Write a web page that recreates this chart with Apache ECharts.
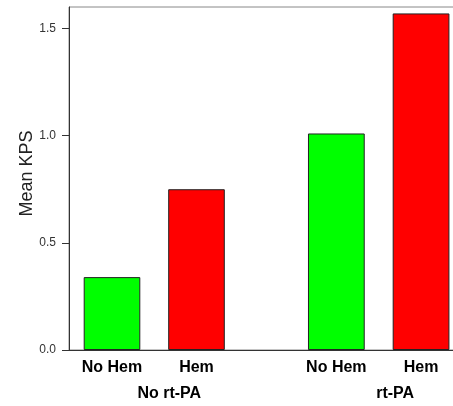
<!DOCTYPE html>
<html>
<head>
<meta charset="utf-8">
<script src="https://cdn.jsdelivr.net/npm/echarts@6/dist/echarts.min.js"></script>
<style>
  html, body { margin: 0; padding: 0; background: #fff; }
  #chart { width: 453px; height: 406px; }
</style>
</head>
<body>
<div id="chart"></div>
<script>
// data
var hemCategories = ["No Hem", "Hem"];
var groupNames = ["No rt-PA", "rt-PA"];
var noTpaValues = [0.34, 0.75];
var tpaValues = [1.01, 1.57];
var barColors = ["#00ff00", "#ff0000"];
var yTicks = [0, 0.5, 1.0, 1.5];
var yMax = 1.6;

var font = "Liberation Sans, Arial, sans-serif";

function colorOf(p) {
  return barColors[p.dataIndex];
}

var chart = echarts.init(document.getElementById("chart"));

chart.setOption({
  animation: false,
  // grid 0 = frame + y axis, grid 1/2 = bar groups (right side runs past the canvas)
  grid: [
    { left: 69, width: 400, top: 7, bottom: 56, outerBoundsMode: "none", show: true, borderColor: "#888", borderWidth: 1, backgroundColor: "transparent" },
    { left: 69.75, width: 169, top: 7, bottom: 56, outerBoundsMode: "none" },
    { left: 294, width: 169.4, top: 7, bottom: 56, outerBoundsMode: "none" }
  ],
  xAxis: [
    {
      gridIndex: 0, type: "value", min: 0, max: 1,
      axisLine: { show: true, lineStyle: { color: "#333", width: 1 } },
      axisTick: { show: false }, axisLabel: { show: false }, splitLine: { show: false }
    },
    {
      gridIndex: 1, type: "category", data: hemCategories,
      name: groupNames[0], nameLocation: "middle", nameGap: 36, nameMoveOverlap: false,
      nameTextStyle: { fontFamily: font, fontSize: 16, fontWeight: "bold", color: "#000", padding: [0, 0, 0, 30] },
      axisLine: { show: false }, axisTick: { show: false },
      axisLabel: { fontFamily: font, fontSize: 16, fontWeight: "bold", color: "#000", margin: 10 }
    },
    {
      gridIndex: 2, type: "category", data: hemCategories,
      name: groupNames[1], nameLocation: "middle", nameGap: 36, nameMoveOverlap: false,
      nameTextStyle: { fontFamily: font, fontSize: 16, fontWeight: "bold", color: "#000", padding: [0, 0, 0, 33] },
      axisLine: { show: false }, axisTick: { show: false },
      axisLabel: { fontFamily: font, fontSize: 16, fontWeight: "bold", color: "#000", margin: 10 }
    }
  ],
  yAxis: [
    {
      gridIndex: 0, type: "value", min: 0, max: yMax,
      name: "Mean KPS", nameLocation: "middle", nameGap: 33, nameMoveOverlap: false,
      nameTextStyle: { fontFamily: font, fontSize: 18, color: "#222", padding: [0, 0, 0, 10] },
      axisLine: { show: true, lineStyle: { color: "#333", width: 1 } },
      axisTick: { show: true, length: 7, customValues: yTicks, lineStyle: { color: "#333" } },
      axisLabel: {
        fontFamily: font, fontSize: 12, color: "#333", margin: 13, customValues: yTicks,
        formatter: function (v) { return v.toFixed(1); }
      },
      splitLine: { show: false }
    },
    { gridIndex: 1, type: "value", min: 0, max: yMax, show: false },
    { gridIndex: 2, type: "value", min: 0, max: yMax, show: false }
  ],
  series: [
    {
      name: groupNames[0], type: "bar", xAxisIndex: 1, yAxisIndex: 1,
      barWidth: "67%", data: noTpaValues,
      itemStyle: { color: colorOf, borderColor: "#222", borderWidth: 1 }
    },
    {
      name: groupNames[1], type: "bar", xAxisIndex: 2, yAxisIndex: 2,
      barWidth: "67%", data: tpaValues,
      itemStyle: { color: colorOf, borderColor: "#222", borderWidth: 1 }
    }
  ]
});
</script>
</body>
</html>
